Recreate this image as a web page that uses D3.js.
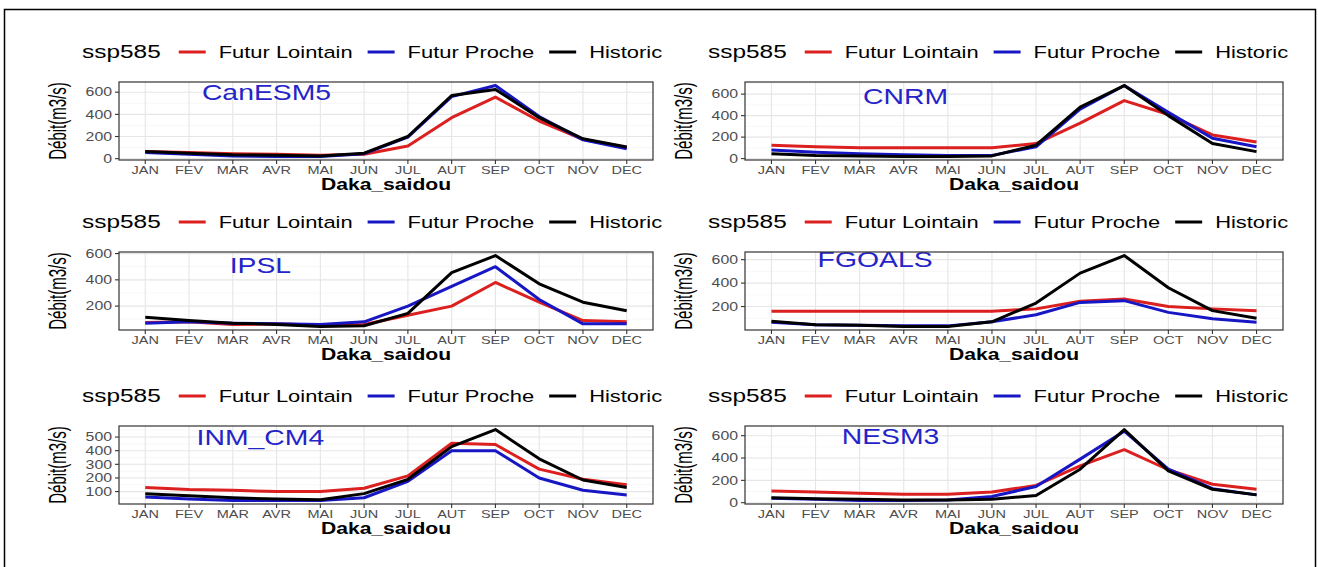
<!DOCTYPE html>
<html>
<head>
<meta charset="utf-8">
<script src="https://cdn.jsdelivr.net/npm/d3@7"></script>
<style>
  body { margin: 0; background: #fff; }
  svg { display: block; }
  text { font-family: "Liberation Sans", Arial, sans-serif; }
</style>
</head>
<body>
<svg id="chart" width="1318" height="567"></svg>
<script>
'use strict';

const months = ['JAN', 'FEV', 'MAR', 'AVR', 'MAI', 'JUN', 'JUL', 'AUT', 'SEP', 'OCT', 'NOV', 'DEC'];
const seriesNames = ['Futur Lointain', 'Futur Proche', 'Historic'];
const modelNames = ['CanESM5', 'CNRM', 'IPSL', 'FGOALS', 'INM_CM4', 'NESM3'];

// debit values per model, one array per series
const canesm5Lointain = [65, 55, 45, 40, 30, 40, 115, 370, 555, 340, 175, 100];
const canesm5Proche = [55, 40, 25, 20, 20, 45, 195, 560, 660, 380, 170, 90];
const canesm5Historic = [65, 50, 35, 30, 25, 50, 200, 570, 625, 370, 180, 105];

const cnrmLointain = [125, 110, 100, 100, 100, 100, 140, 330, 540, 410, 220, 155];
const cnrmProche = [80, 60, 45, 35, 30, 30, 110, 460, 680, 430, 190, 110];
const cnrmHistoric = [45, 30, 25, 20, 20, 25, 125, 480, 680, 400, 140, 65];

const ipslLointain = [75, 80, 60, 65, 55, 60, 130, 200, 380, 230, 90, 80];
const ipslProche = [70, 80, 70, 65, 60, 80, 200, 350, 500, 250, 65, 65];
const ipslHistoric = [115, 90, 70, 60, 45, 50, 145, 455, 585, 370, 230, 165];

const fgoalsLointain = [160, 160, 160, 160, 160, 160, 180, 245, 265, 200, 180, 165];
const fgoalsProche = [65, 45, 40, 35, 35, 70, 130, 235, 250, 150, 95, 65];
const fgoalsHistoric = [75, 45, 40, 30, 30, 70, 230, 485, 635, 360, 165, 100];

const inmLointain = [130, 115, 110, 100, 100, 125, 215, 455, 445, 265, 190, 150];
const inmProche = [60, 45, 35, 35, 35, 55, 175, 400, 400, 200, 110, 75];
const inmHistoric = [85, 70, 55, 45, 40, 85, 190, 430, 555, 340, 185, 130];

const nesm3Lointain = [105, 95, 85, 75, 75, 95, 155, 330, 475, 295, 165, 120];
const nesm3Proche = [40, 30, 20, 20, 25, 55, 145, 390, 640, 300, 125, 70];
const nesm3Historic = [45, 35, 30, 25, 25, 30, 65, 300, 655, 285, 120, 70];

// y tick labels per panel
const canesm5Ticks = [0, 200, 400, 600];
const cnrmTicks = [0, 200, 400, 600];
const ipslTicks = [200, 400, 600];
const fgoalsTicks = [200, 400, 600];
const inmTicks = [100, 200, 300, 400, 500];
const nesm3Ticks = [0, 200, 400, 600];

// where the model name sits, in month index and debit units
const labelMonth = [2.77, 3.04, 2.63, 2.35, 2.63, 2.7];
const labelValue = [600, 580, 510, 600, 500, 590];

const panels = [
  {name: modelNames[0], values: [canesm5Lointain, canesm5Proche, canesm5Historic], ticks: canesm5Ticks},
  {name: modelNames[1], values: [cnrmLointain, cnrmProche, cnrmHistoric], ticks: cnrmTicks},
  {name: modelNames[2], values: [ipslLointain, ipslProche, ipslHistoric], ticks: ipslTicks},
  {name: modelNames[3], values: [fgoalsLointain, fgoalsProche, fgoalsHistoric], ticks: fgoalsTicks},
  {name: modelNames[4], values: [inmLointain, inmProche, inmHistoric], ticks: inmTicks},
  {name: modelNames[5], values: [nesm3Lointain, nesm3Proche, nesm3Historic], ticks: nesm3Ticks},
];

const colors = ['#dc1f1f', '#1616c4', '#000000'];
const stretch = 1.32;
const colX = [119, 745];
const colW = [534, 538];
const rowY = [82, 252, 426];
const panelH = 78;
const cellRight = [665, 1296];

const svg = d3.select('#chart');
const defs = svg.append('defs');

// frame round the whole figure
svg.append('rect')
  .attr('x', 4.5).attr('y', 9.5)
  .attr('width', 1311).attr('height', 570)
  .attr('fill', 'none').attr('stroke', '#000').attr('stroke-width', 1.5);

function addText(g, x, y, str, size, opts = {}) {
  const sx = opts.stretch || stretch;
  return g.append('text')
    .attr('transform', `translate(${x},${y}) scale(${sx},1)` + (opts.rotate ? ` rotate(${opts.rotate})` : ''))
    .attr('text-anchor', opts.anchor || 'start')
    .attr('dominant-baseline', 'central')
    .attr('font-size', size)
    .attr('font-weight', opts.bold ? 'bold' : 'normal')
    .attr('fill', opts.color || '#000')
    .text(str);
}

panels.forEach((panel, i) => {
  const col = i % 2;
  const row = Math.floor(i / 2);
  const x0 = colX[col];
  const y0 = rowY[row];
  const w = colW[col];

  defs.append('clipPath').attr('id', `cell${i}`)
    .append('rect').attr('x', col === 0 ? 0 : cellRight[0]).attr('y', 0)
    .attr('width', cellRight[col] - (col === 0 ? 0 : cellRight[0])).attr('height', 567);
  const cell = svg.append('g').attr('clip-path', `url(#cell${i})`);

  const all = panel.values.flat();
  const lo = d3.min(all), hi = d3.max(all);
  const pad = (hi - lo) * 0.05;
  const y = d3.scaleLinear().domain([lo - pad, hi + pad]).range([y0 + panelH, y0]);
  const x = d3.scalePoint().domain(months).range([x0, x0 + w]).padding(0.6);

  const g = cell.append('g');

  // grid: minor horizontal, major horizontal, vertical per month
  const tickStep = panel.ticks[1] - panel.ticks[0];
  const minor = [];
  for (let t = panel.ticks[0] - tickStep / 2; t <= y.domain()[1]; t += tickStep) {
    if (t >= y.domain()[0]) minor.push(t);
  }
  g.selectAll('.minor').data(minor).join('line')
    .attr('x1', x0).attr('x2', x0 + w)
    .attr('y1', d => y(d)).attr('y2', d => y(d))
    .attr('stroke', '#f2f2f2').attr('stroke-width', 0.6);
  g.selectAll('.major').data(panel.ticks).join('line')
    .attr('x1', x0).attr('x2', x0 + w)
    .attr('y1', d => y(d)).attr('y2', d => y(d))
    .attr('stroke', '#e6e6e6').attr('stroke-width', 1.1);
  g.selectAll('.vert').data(months).join('line')
    .attr('x1', d => x(d)).attr('x2', d => x(d))
    .attr('y1', y0).attr('y2', y0 + panelH)
    .attr('stroke', '#e6e6e6').attr('stroke-width', 1.1);

  // series lines
  const line = d3.line().x((d, k) => x(months[k])).y(d => y(d));
  panel.values.forEach((vals, s) => {
    g.append('path')
      .attr('d', line(vals))
      .attr('fill', 'none')
      .attr('stroke', colors[s])
      .attr('stroke-width', 3)
      .attr('stroke-linejoin', 'round');
  });

  // model name
  const step = x.step();
  addText(g, x(months[0]) + step * labelMonth[i], y(labelValue[i]), panel.name, 21.5, {anchor: 'middle', color: '#2424c8'});

  // border
  g.append('rect')
    .attr('x', x0).attr('y', y0).attr('width', w).attr('height', panelH)
    .attr('fill', 'none').attr('stroke', '#333').attr('stroke-width', 1.2);

  // axis ticks
  g.selectAll('.yt').data(panel.ticks).join('line')
    .attr('x1', x0 - 4).attr('x2', x0)
    .attr('y1', d => y(d)).attr('y2', d => y(d))
    .attr('stroke', '#333').attr('stroke-width', 1.1);
  g.selectAll('.xt').data(months).join('line')
    .attr('x1', d => x(d)).attr('x2', d => x(d))
    .attr('y1', y0 + panelH).attr('y2', y0 + panelH + 4)
    .attr('stroke', '#333').attr('stroke-width', 1.1);

  panel.ticks.forEach(t => addText(g, x0 - 7, y(t), t, 12, {anchor: 'end', color: '#4d4d4d'}));
  months.forEach(m => addText(g, x(m), y0 + panelH + 10, m, 11, {anchor: 'middle', color: '#4d4d4d'}));

  addText(g, x0 + w / 2, y0 + panelH + 24, 'Daka_saidou', 16, {anchor: 'middle', bold: true});
  addText(g, x0 - 61, y0 + panelH / 2, 'Débit(m3/s)', 15, {anchor: 'middle', rotate: -90, stretch: 1.6});

  // legend
  const lg = cell.append('g');
  const ly = y0 - 30;
  let lx = x0 - 37;
  const title = addText(lg, lx, ly, 'ssp585', 18.5);
  lx += title.node().getComputedTextLength() * stretch + 18;
  seriesNames.forEach((name, s) => {
    lg.append('line')
      .attr('x1', lx).attr('x2', lx + 27).attr('y1', ly).attr('y2', ly)
      .attr('stroke', colors[s]).attr('stroke-width', 3);
    lx += 40;
    const t = addText(lg, lx, ly, name, 16.6);
    lx += t.node().getComputedTextLength() * stretch + 15;
  });
});
</script>
</body>
</html>
